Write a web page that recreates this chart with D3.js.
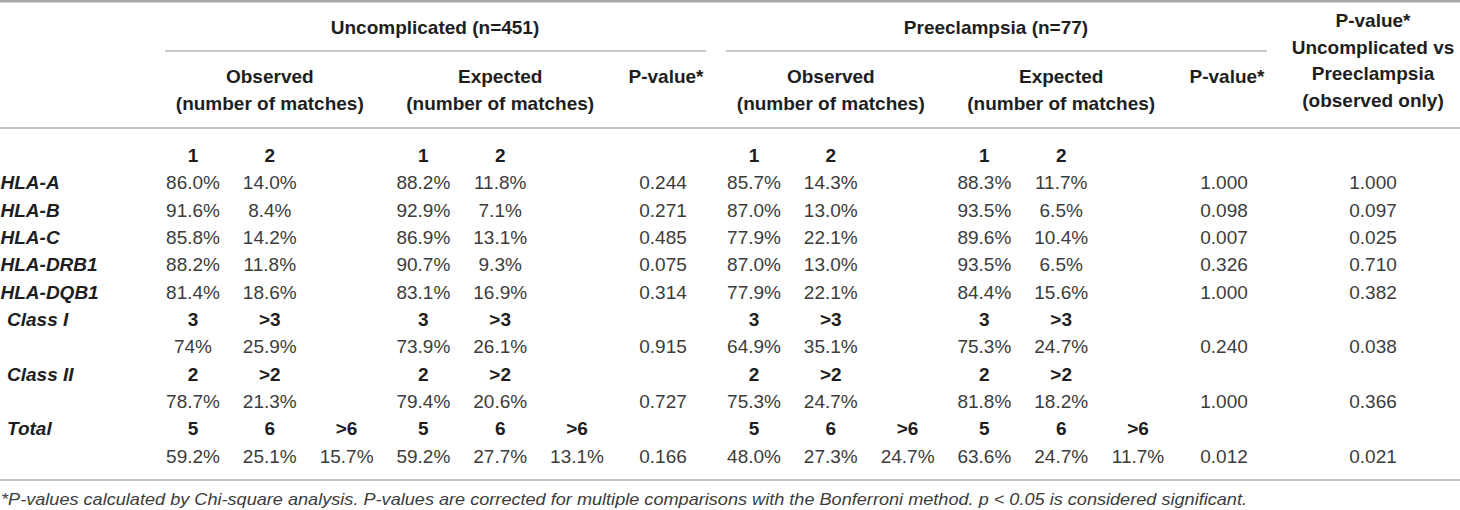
<!DOCTYPE html>
<html>
<head>
<meta charset="utf-8">
<script src="https://cdn.jsdelivr.net/npm/d3@7"></script>
<style>
  html, body { margin: 0; padding: 0; background: #fff; }
  svg { display: block; font-family: "Liberation Sans", Arial, Helvetica, sans-serif; }
  .hd { font-weight: bold; fill: #1e1e1e; }
  .val { fill: #3c3c3c; }
  .lab { font-weight: bold; font-style: italic; fill: #1e1e1e; }
  .note { font-style: italic; fill: #3c3c3c; }
</style>
</head>
<body>
<svg id="tbl"></svg>
<script>
// groups and column headings
const groups = ["Uncomplicated (n=451)", "Preeclampsia (n=77)"]
const blocks = ["Observed", "Expected"]
const blockSub = "(number of matches)"
const pHead = "P-value*"
const compareHead = ["P-value*", "Uncomplicated vs", "Preeclampsia", "(observed only)"]

// single loci
const geneLabels = ["HLA-A", "HLA-B", "HLA-C", "HLA-DRB1", "HLA-DQB1"]
const geneCats = ["1", "2"]
const uncObsGene = [["86.0%", "14.0%"], ["91.6%", "8.4%"], ["85.8%", "14.2%"], ["88.2%", "11.8%"], ["81.4%", "18.6%"]]
const uncExpGene = [["88.2%", "11.8%"], ["92.9%", "7.1%"], ["86.9%", "13.1%"], ["90.7%", "9.3%"], ["83.1%", "16.9%"]]
const uncPGene = ["0.244", "0.271", "0.485", "0.075", "0.314"]
const preObsGene = [["85.7%", "14.3%"], ["87.0%", "13.0%"], ["77.9%", "22.1%"], ["87.0%", "13.0%"], ["77.9%", "22.1%"]]
const preExpGene = [["88.3%", "11.7%"], ["93.5%", "6.5%"], ["89.6%", "10.4%"], ["93.5%", "6.5%"], ["84.4%", "15.6%"]]
const prePGene = ["1.000", "0.098", "0.007", "0.326", "1.000"]
const compareGene = ["1.000", "0.097", "0.025", "0.710", "0.382"]

// summed classes
const sumLabels = ["Class I", "Class II", "Total"]
const sumCats = [["3", ">3"], ["2", ">2"], ["5", "6", ">6"]]
const uncObsSum = [["74%", "25.9%"], ["78.7%", "21.3%"], ["59.2%", "25.1%", "15.7%"]]
const uncExpSum = [["73.9%", "26.1%"], ["79.4%", "20.6%"], ["59.2%", "27.7%", "13.1%"]]
const uncPSum = ["0.915", "0.727", "0.166"]
const preObsSum = [["64.9%", "35.1%"], ["75.3%", "24.7%"], ["48.0%", "27.3%", "24.7%"]]
const preExpSum = [["75.3%", "24.7%"], ["81.8%", "18.2%"], ["63.6%", "24.7%", "11.7%"]]
const prePSum = ["0.240", "1.000", "0.012"]
const compareSum = ["0.038", "0.366", "0.021"]

const footnote = "*P-values calculated by Chi-square analysis. P-values are corrected for multiple comparisons with the Bonferroni method. p < 0.05 is considered significant."

const width = 1460, height = 510

const svg = d3.select("#tbl").attr("width", width).attr("height", height)

// horizontal layout
const groupX = d3.scalePoint().domain(groups).range([0, 561])
const subX = d3.scaleLinear().domain([0, 1]).range([193, 269.8])
const pX = 663
const compareX = 1373

// vertical layout: body rows and header lines
const bodyRows = d3.range(12)
const rowY = d3.scalePoint().domain(bodyRows).range([155, 456])
const headY = d3.scalePoint().domain(d3.range(4)).range([20, 100])

function text(x, y, s, cls) {
  svg.append("text")
    .attr("class", cls)
    .attr("x", x)
    .attr("y", y)
    .attr("dy", "0.36em")
    .attr("text-anchor", "middle")
    .attr("font-size", 19)
    .text(s)
}

function hline(x1, x2, y, w, c) {
  svg.append("line")
    .attr("x1", x1).attr("x2", x2)
    .attr("y1", y).attr("y2", y)
    .attr("stroke", c)
    .attr("stroke-width", w)
}

// rules
hline(0, width, 1.2, 2.4, "#a6a6a6")
hline(0, width, 128, 1.6, "#b0b0b0")
hline(0, width, 480, 1.6, "#b0b0b0")

// header
groups.forEach(g => {
  let gx = groupX(g)
  text(gx + (subX(0) + pX) / 2 + 7, 27, g, "hd")
  hline(gx + 165, gx + 706, 51, 1.6, "#b8b8b8")
  blocks.forEach((b, bi) => {
    text(gx + subX(bi * 3 + 1), 76, b, "hd")
    text(gx + subX(bi * 3 + 1), 103, blockSub, "hd")
  })
  text(gx + pX + 3, 76, pHead, "hd")
})
compareHead.forEach((s, i) => text(compareX, headY(i), s, "hd"))

// one block of cells: strings across sub-columns
function cells(row, values, cls) {
  const sets = [[values[0], values[1]], [values[2], values[3]]]
  groups.forEach((g, gi) => {
    sets[gi].forEach((arr, bi) => {
      arr.forEach((v, i) => text(groupX(g) + subX(bi * 3 + i), rowY(row), v, cls))
    })
  })
}

function pcells(row, up, pp, cp) {
  text(groupX(groups[0]) + pX, rowY(row), up, "val")
  text(groupX(groups[1]) + pX, rowY(row), pp, "val")
  text(compareX, rowY(row), cp, "val")
}

function label(row, s, indent) {
  svg.append("text")
    .attr("class", "lab")
    .attr("x", indent ? 7 : 0.5)
    .attr("y", rowY(row))
    .attr("dy", "0.36em")
    .attr("font-size", 19)
    .text(s)
}

// match count header for the loci
cells(0, [geneCats, geneCats, geneCats, geneCats], "hd")

geneLabels.forEach((lab, i) => {
  let r = i + 1
  label(r, lab, false)
  cells(r, [uncObsGene[i], uncExpGene[i], preObsGene[i], preExpGene[i]], "val")
  pcells(r, uncPGene[i], prePGene[i], compareGene[i])
})

sumLabels.forEach((lab, i) => {
  let r = 6 + i * 2
  label(r, lab, true)
  cells(r, [sumCats[i], sumCats[i], sumCats[i], sumCats[i]], "hd")
  cells(r + 1, [uncObsSum[i], uncExpSum[i], preObsSum[i], preExpSum[i]], "val")
  pcells(r + 1, uncPSum[i], prePSum[i], compareSum[i])
})

svg.append("text")
  .attr("class", "note")
  .attr("x", 1)
  .attr("y", 499)
  .attr("dy", "0.36em")
  .attr("font-size", 16.5)
  .attr("textLength", 1246)
  .attr("lengthAdjust", "spacingAndGlyphs")
  .text(footnote)
</script>
</body>
</html>
